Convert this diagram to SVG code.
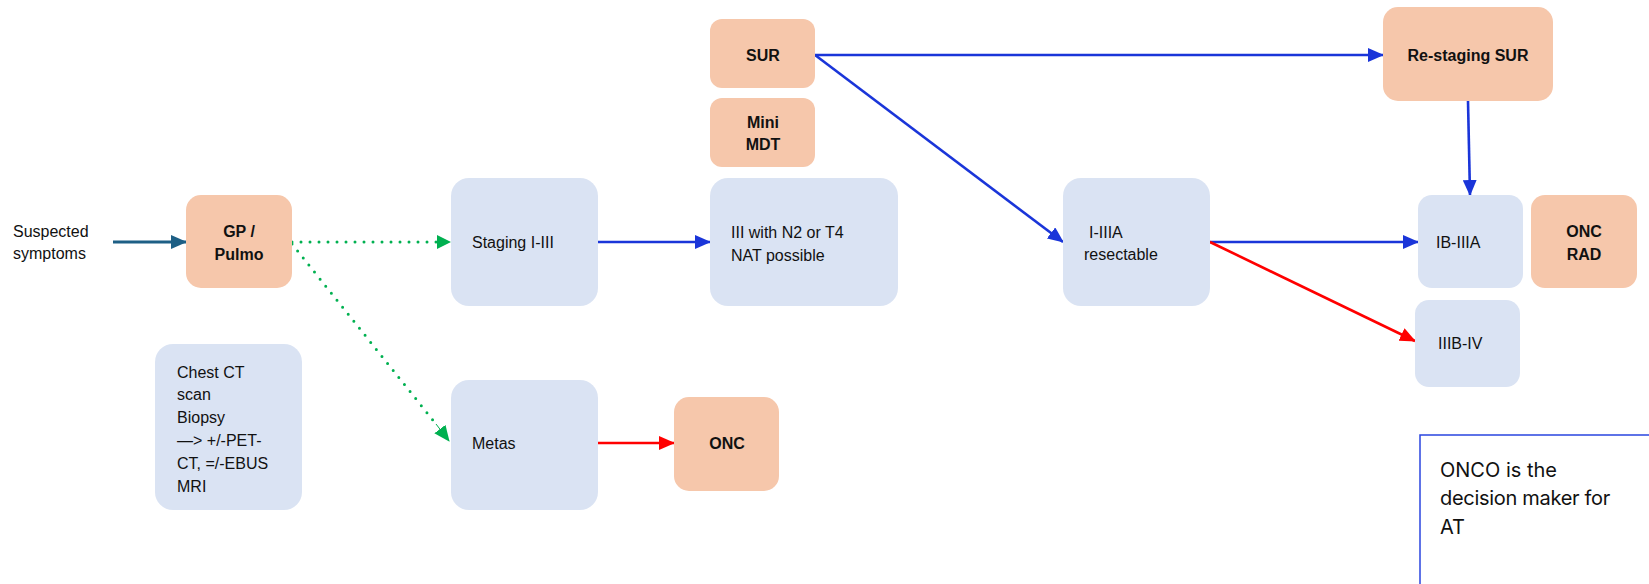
<svg xmlns="http://www.w3.org/2000/svg" width="1649" height="584" viewBox="0 0 1649 584">
<style>
.bn{fill:#dae3f3}
.on{fill:#f6c7ab}
.t{font-family:"Liberation Sans",Arial,sans-serif;font-size:16px;fill:#111}
.b{font-weight:bold;text-anchor:middle}
.ln{fill:none;stroke-width:2.6}
.blue{stroke:#1a35d9}
.red{stroke:#ff0000}
.grn{stroke:#00b050;stroke-width:3;stroke-dasharray:0 9;stroke-linecap:round}
.teal{stroke:#1d5f85;stroke-width:3}
.nt{font-family:Inter,"Noto Sans",sans-serif;font-size:20px;fill:#111}
</style>
<defs>
<marker id="ab" markerUnits="userSpaceOnUse" markerWidth="16" markerHeight="14" refX="15" refY="7" orient="auto"><path d="M0,0 L16,7 L0,14 Z" fill="#1a35d9"/></marker>
<marker id="ar" markerUnits="userSpaceOnUse" markerWidth="16" markerHeight="14" refX="15" refY="7" orient="auto"><path d="M0,0 L16,7 L0,14 Z" fill="#ff0000"/></marker>
<marker id="ag" markerUnits="userSpaceOnUse" markerWidth="16" markerHeight="14" refX="15" refY="7" orient="auto"><path d="M0,0 L16,7 L0,14 Z" fill="#00b050"/></marker>
<marker id="at" markerUnits="userSpaceOnUse" markerWidth="16" markerHeight="14" refX="15" refY="7" orient="auto"><path d="M0,0 L16,7 L0,14 Z" fill="#1d5f85"/></marker>
</defs>
<rect width="1649" height="584" fill="#fff"/>

<g id="connectors">
<line class="ln teal" x1="113" y1="242" x2="186" y2="242" marker-end="url(#at)"/>
<line class="ln grn" x1="292" y1="242" x2="440" y2="242"/>
<path d="M437,235 L451,242 L437,249 Z" fill="#00b050"/>
<line class="ln grn" x1="292" y1="244" x2="436" y2="424"/>
<line stroke="#00b050" stroke-width="1" x1="436" y1="424" x2="449" y2="441" marker-end="url(#ag)"/>
<line class="ln blue" x1="598" y1="242" x2="710" y2="242" marker-end="url(#ab)"/>
<line class="ln red" x1="598" y1="443" x2="674" y2="443" marker-end="url(#ar)"/>
<line class="ln blue" x1="815" y1="55" x2="1383" y2="55" marker-end="url(#ab)"/>
<line class="ln blue" x1="815" y1="55" x2="1063" y2="242" marker-end="url(#ab)"/>
<line class="ln blue" x1="1468" y1="101" x2="1470" y2="195" marker-end="url(#ab)"/>
<line class="ln blue" x1="1210" y1="242" x2="1418" y2="242" marker-end="url(#ab)"/>
<line class="ln red" x1="1210" y1="242" x2="1415" y2="341" marker-end="url(#ar)"/>
</g>

<g id="suspected">
<text class="t" x="13" y="237">Suspected</text>
<text class="t" x="13" y="259">symptoms</text>
</g>

<g id="gp">
<rect class="on" x="186" y="195" width="106" height="93" rx="15"/>
<text class="t b" x="239" y="237">GP /</text>
<text class="t b" x="239" y="260">Pulmo</text>
</g>

<g id="chest">
<rect class="bn" x="155" y="344" width="147" height="166" rx="18"/>
<text class="t" x="177" y="378">Chest CT</text>
<text class="t" x="177" y="400">scan</text>
<text class="t" x="177" y="423">Biopsy</text>
<text class="t" x="177" y="446">—&gt; +/-PET-</text>
<text class="t" x="177" y="469">CT, =/-EBUS</text>
<text class="t" x="177" y="492">MRI</text>
</g>

<g id="staging">
<rect class="bn" x="451" y="178" width="147" height="128" rx="18"/>
<text class="t" x="472" y="248">Staging I-III</text>
</g>

<g id="iii">
<rect class="bn" x="710" y="178" width="188" height="128" rx="18"/>
<text class="t" x="731" y="238">III with N2 or T4</text>
<text class="t" x="731" y="261">NAT possible</text>
</g>

<g id="metas">
<rect class="bn" x="451" y="380" width="147" height="130" rx="18"/>
<text class="t" x="472" y="449">Metas</text>
</g>

<g id="onc">
<rect class="on" x="674" y="397" width="105" height="94" rx="15"/>
<text class="t b" x="727" y="449">ONC</text>
</g>

<g id="sur">
<rect class="on" x="710" y="19" width="105" height="69" rx="12"/>
<text class="t b" x="763" y="61">SUR</text>
</g>

<g id="minimdt">
<rect class="on" x="710" y="98" width="105" height="69" rx="12"/>
<text class="t b" x="763" y="128">Mini</text>
<text class="t b" x="763" y="150">MDT</text>
</g>

<g id="resectable">
<rect class="bn" x="1063" y="178" width="147" height="128" rx="18"/>
<text class="t" x="1089" y="238">I-IIIA</text>
<text class="t" x="1084" y="260">resectable</text>
</g>

<g id="restaging">
<rect class="on" x="1383" y="7" width="170" height="94" rx="15"/>
<text class="t b" x="1468" y="61">Re-staging SUR</text>
</g>

<g id="ib">
<rect class="bn" x="1418" y="195" width="105" height="93" rx="14"/>
<text class="t" x="1436" y="248">IB-IIIA</text>
</g>

<g id="oncrad">
<rect class="on" x="1531" y="195" width="106" height="93" rx="14"/>
<text class="t b" x="1584" y="237">ONC</text>
<text class="t b" x="1584" y="260">RAD</text>
</g>

<g id="iiib">
<rect class="bn" x="1415" y="300" width="105" height="87" rx="14"/>
<text class="t" x="1438" y="349">IIIB-IV</text>
</g>

<g id="note">
<rect x="1420" y="435" width="240" height="160" fill="#fff" stroke="#2a45e0" stroke-width="1.5"/>
<text class="nt" x="1440" y="477">ONCO is the</text>
<text class="nt" x="1440" y="505" letter-spacing="-0.3">decision maker for</text>
<text class="nt" x="1440" y="534">AT</text>
</g>
</svg>
